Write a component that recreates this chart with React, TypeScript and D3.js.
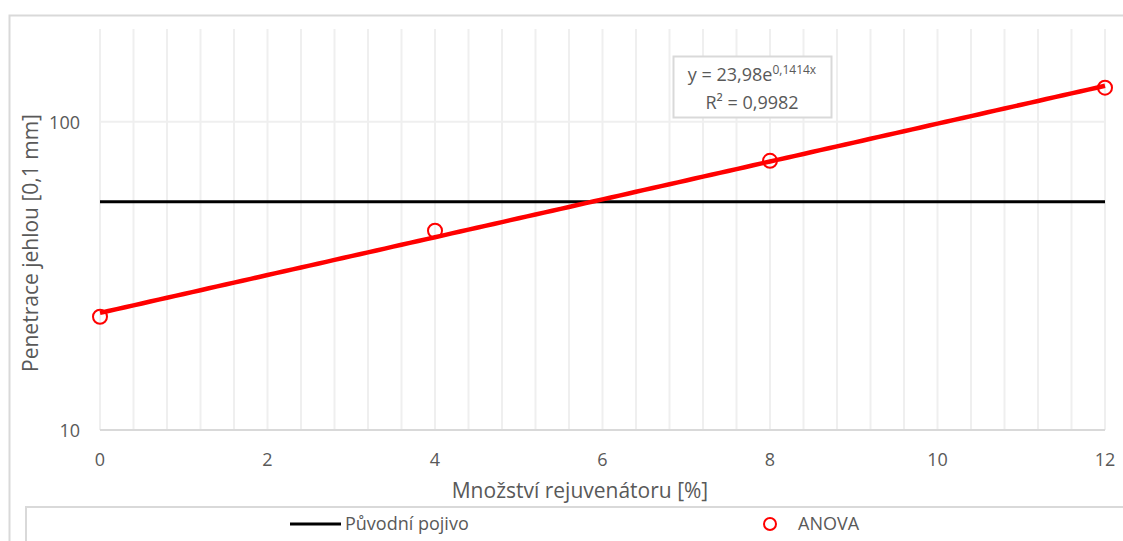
import React from "react";
import * as d3 from "d3";

const xValues = [0, 4, 8, 12];
const anovaValues = [23.3, 44.3, 74.7, 129];
const baseBinderValue = 55;
const baseBinderX = [0, 12];
const trendA = 23.98;
const trendB = 0.1414;
const xTicks = [0, 2, 4, 6, 8, 10, 12];
const yTicks = [10, 100];
const xMinorStep = 0.4;

const W = 1123;
const H = 541;
const M = { left: 100, right: 1105, top: 29, bottom: 430 };
const FONT = "'Open Sans', 'Liberation Sans', sans-serif";
const TXT = "#595959";

export default function App() {
  const x = d3.scaleLinear().domain([0, 12]).range([M.left, M.right]);
  const y = d3.scaleLog().domain([10, 200]).range([M.bottom, M.top]);

  const minor = d3.range(0, 12 + 1e-9, xMinorStep);
  const trendPts = d3.range(0, 12.0001, 0.1).map((v) => [v, trendA * Math.exp(trendB * v)] as [number, number]);
  const trendLine = d3.line<[number, number]>().x((d) => x(d[0])).y((d) => y(d[1]));

  return (
    <svg width={W} height={H} style={{ position: "absolute", left: 0, top: 0 }}>
      <rect x={0} y={0} width={W} height={H} fill="#fff" />
      <path d={`M${W + 5},15.5 H9.5 V${H + 5}`} fill="none" stroke="#d9d9d9" strokeWidth={2} />
      {minor.map((v, i) => (
        <line key={"gx" + i} x1={x(v)} x2={x(v)} y1={M.top} y2={M.bottom} stroke="#efefef" strokeWidth={2} />
      ))}
      {yTicks.map((v) => (
        <line key={"gy" + v} x1={M.left} x2={M.right} y1={y(v)} y2={y(v)} stroke="#efefef" strokeWidth={2} />
      ))}
      <line x1={M.left} x2={M.right} y1={M.bottom} y2={M.bottom} stroke="#d9d9d9" strokeWidth={2} />
      {xTicks.map((v) => (
        <text key={"xt" + v} x={x(v)} y={466} textAnchor="middle" fontFamily={FONT} fontSize={18} fill={TXT}>
          {v}
        </text>
      ))}
      {yTicks.map((v) => (
        <text key={"yt" + v} x={80} y={y(v) + 7} textAnchor="end" fontFamily={FONT} fontSize={18} fill={TXT}>
          {v}
        </text>
      ))}
      <text x={580} y={498} textAnchor="middle" fontFamily={FONT} fontSize={21} fill={TXT}>
        Množství rejuvenátoru [%]
      </text>
      <text
        transform={`translate(38,243) rotate(-90)`}
        textAnchor="middle"
        fontFamily={FONT}
        fontSize={21}
        fill={TXT}
      >
        Penetrace jehlou [0,1 mm]
      </text>
      <line
        x1={x(baseBinderX[0])}
        x2={x(baseBinderX[1])}
        y1={y(baseBinderValue)}
        y2={y(baseBinderValue)}
        stroke="#000"
        strokeWidth={3}
      />
      <path d={trendLine(trendPts) || ""} fill="none" stroke="#ff0000" strokeWidth={4.5} />
      {xValues.map((v, i) => (
        <circle key={"p" + i} cx={x(v)} cy={y(anovaValues[i])} r={7} fill="none" stroke="#ff0000" strokeWidth={2} />
      ))}
      <rect x={673.5} y={56.5} width={158} height={61} fill="#fff" stroke="#d9d9d9" strokeWidth={2} />
      <text x={752} y={81} textAnchor="middle" fontFamily={FONT} fontSize={18} fill={TXT}>
        y = 23,98e<tspan fontSize={12} dy={-7}>0,1414x</tspan>
      </text>
      <text x={752} y={109} textAnchor="middle" fontFamily={FONT} fontSize={18} fill={TXT}>
        R² = 0,9982
      </text>
      <path d={`M${W + 5},507 H26 V${H + 5}`} fill="none" stroke="#d9d9d9" strokeWidth={2} />
      <line x1={290} x2={341} y1={524} y2={524} stroke="#000" strokeWidth={3} />
      <text x={345} y={530} fontFamily={FONT} fontSize={18} fill={TXT}>
        Původní pojivo
      </text>
      <circle cx={770} cy={524} r={6} fill="none" stroke="#ff0000" strokeWidth={2} />
      <text x={798} y={530} fontFamily={FONT} fontSize={18} fill={TXT}>
        ANOVA
      </text>
    </svg>
  );
}
